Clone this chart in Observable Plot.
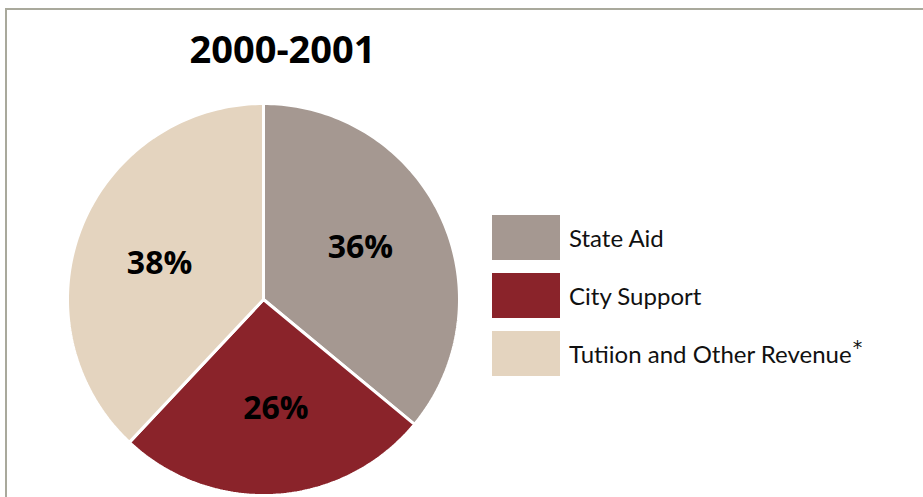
<!DOCTYPE html>
<html><head><meta charset="utf-8">
<script src="https://cdn.jsdelivr.net/npm/d3@7"></script>
<script src="https://cdn.jsdelivr.net/npm/@observablehq/plot@0.6"></script>
<style>
body{margin:0;background:#fff;font-family:"Open Sans",sans-serif;}
#wrap{position:relative;width:923px;height:497px;overflow:hidden;}
#frame{position:absolute;left:5px;top:8px;right:-10px;bottom:-10px;border-top:2px solid #a9a99c;border-left:2px solid #a9a99c;}
#legend{position:absolute;left:492px;top:208px;}
.item{display:flex;align-items:center;height:58px;}
.sw{width:68px;height:45px;margin-right:9px;flex:none;}
.lab{font-size:24px;color:#111;font-family:Lato,sans-serif;white-space:nowrap;}
.ast{font-family:"DejaVu Sans",sans-serif;font-size:19px;position:relative;top:-9px;margin-left:1px;}
</style></head><body>
<div id="wrap"><div id="frame"></div><div id="chart"></div><div id="legend"></div></div>
<script>
const title = "2000-2001";
const categories = ["State Aid", "City Support", "Tutiion and Other Revenue"];
const values = [36, 26, 38];
const colors = ["#a59891", "#8a232a", "#e4d4bf"];

const W = 923, H = 497, cx = 263, cy = 299, R = 196;
const pie = d3.pie().sort(null).value(d => d.value)(categories.map((c, i) => ({cat: c, value: values[i]})));
const pts = [];
pie.forEach(s => {
  pts.push({cat: s.data.cat, x: 0, y: 0});
  const n = 120;
  for (let k = 0; k <= n; k++) {
    const a = s.startAngle + (s.endAngle - s.startAngle) * k / n;
    pts.push({cat: s.data.cat, x: Math.sin(a), y: Math.cos(a)});
  }
  pts.push({cat: s.data.cat, x: 0, y: 0});
});
const labels = pie.map(s => {
  const a = (s.startAngle + s.endAngle) / 2 - 0.05;
  return {text: s.data.value + "%", x: 0.56 * Math.sin(a), y: 0.56 * Math.cos(a)};
});

const plot = Plot.plot({
  width: W, height: H, margin: 0,
  x: {domain: [-cx / R, (W - cx) / R], axis: null},
  y: {domain: [-(H - cy) / R, cy / R], axis: null},
  color: {domain: categories, range: colors},
  style: {background: "transparent", overflow: "visible"},
  marks: [
    Plot.line(pts, {x: "x", y: "y", z: "cat", fill: "cat", stroke: "white", strokeWidth: 3, curve: "linear-closed", strokeLinejoin: "miter"}),
    Plot.text(labels, {x: "x", y: "y", text: "text", fontSize: 32, fontWeight: "bold", fill: "#000", fontFamily: "Open Sans"}),
    Plot.text([title], {frameAnchor: "top-left", textAnchor: "middle", dx: 282, dy: 36, text: d => d, fontSize: 38, fontWeight: "bold", fill: "#000", fontFamily: "Open Sans"})
  ]
});
document.getElementById("chart").appendChild(plot);

const leg = document.getElementById("legend");
categories.forEach((c, i) => {
  const it = document.createElement("div");
  it.className = "item";
  it.innerHTML = `<div class="sw" style="background:${colors[i]}"></div><span class="lab">${c}${i === 2 ? '<span class="ast">*</span>' : ""}</span>`;
  leg.appendChild(it);
});
</script></body></html>
